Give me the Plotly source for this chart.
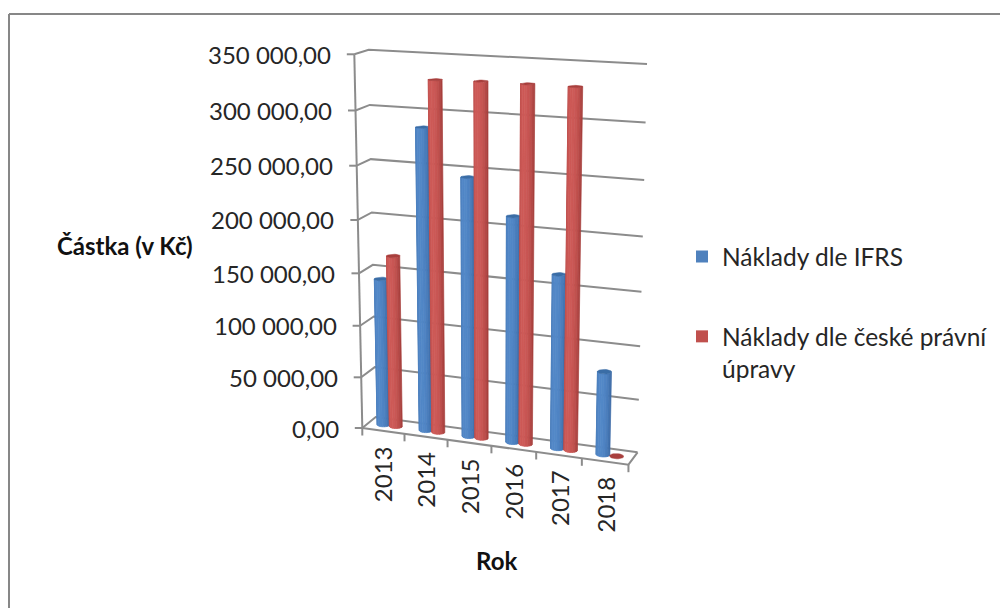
import numpy as np
import plotly.graph_objects as go

# Chart data
years = ["2013", "2014", "2015", "2016", "2017", "2018"]
naklady_ifrs = [142000, 286000, 244000, 212000, 163000, 78000]
naklady_cz = [165000, 329000, 330000, 330000, 330000, 0]
value_ticks = [0, 50000, 100000, 150000, 200000, 250000, 300000, 350000]
series_names = ["Náklady dle IFRS", "Náklady dle české právní<br>úpravy"]

FONT = "Lato"
TEXT = "#262626"
GREY = "#8c8c8c"
VMAX = value_ticks[-1]

# Perspective camera of the 3D box: (width, depth, height) in [0, 1] -> page pixels,
# solved by least squares from where the box corners should land.
box_corners = [
    ((0, 0, 0), (363, 428)), ((0, 0, 1), (354, 54)),
    ((0, 1, 0), (375, 417)), ((0, 1, 1), (369, 50)),
    ((1, 1, 0), (638, 452)), ((1, 1, 1), (647, 64)),
    ((1, 0, 0), (628, 465)),
]
rows = []
for (a, b, c), (px, py) in box_corners:
    rows.append([a, b, c, 1, 0, 0, 0, 0, -px * a, -px * b, -px * c, -px])
    rows.append([0, 0, 0, 0, a, b, c, 1, -py * a, -py * b, -py * c, -py])
CAMERA = np.linalg.svd(np.array(rows, float))[2][-1].reshape(3, 4)


def project(u, d, v):
    """Project box coordinates; v is a money value, u and d are fractions of the box."""
    p = CAMERA @ np.array([u, d, v / VMAX, 1.0])
    return p[0] / p[2], p[1] / p[2]


def polyline(points):
    xs, ys = zip(*[project(*p) for p in points])
    return list(xs), list(ys)


fig = go.Figure()


def add_lines(segments, width=2.0, color=GREY):
    xs, ys = [], []
    for seg in segments:
        sx, sy = polyline(seg)
        xs += sx + [None]
        ys += sy + [None]
    fig.add_trace(go.Scatter(x=xs, y=ys, mode="lines", showlegend=False, hoverinfo="skip",
                             line=dict(color=color, width=width)))


# Walls: gridlines on the left and the back side, plus the value axis itself
add_lines([[(0, 0, v), (0, 1, v), (1, 1, v)] for v in value_ticks])
add_lines([[(0, 0, 0), (0, 0, VMAX)]])

# Floor outline
add_lines([[(0, 0, 0), (1, 0, 0), (1, 1, 0)]])

# Tick marks: value ticks stick out to the left, category ticks hang below the floor
n = len(years)
tick_segments = []
for v in value_ticks:
    x0, y0 = project(0, 0, v)
    tick_segments.append((x0, y0, x0 - 7.5, y0))
for k in range(n + 1):
    x0, y0 = project(k / n, 0, 0)
    tick_segments.append((x0, y0, x0, y0 + 7.5))
txs, tys = [], []
for x0, y0, x1, y1 in tick_segments:
    txs += [x0, x1, None]
    tys += [y0, y1, None]
fig.add_trace(go.Scatter(x=txs, y=tys, mode="lines", showlegend=False, hoverinfo="skip",
                         line=dict(color=GREY, width=2.0)))

# Cylinders: each colour band around the front of a cylinder is one filled trace
RADIUS = 0.0245
DEPTH_RADIUS = 0.2
BANDS = 9
palettes = [
    {"edge": (56, 102, 160), "mid": (82, 136, 200), "cap": "#3a6da6"},
    {"edge": (160, 58, 56), "mid": (206, 90, 87), "cap": "#a83f3d"},
]


def shade(palette, t):
    # t runs 0..1 across the front of the cylinder; lightest a little left of centre
    w = 1 - min(abs(t - 0.45) / 0.55, 1) ** 1.8
    rgb = [palette["edge"][i] + (palette["mid"][i] - palette["edge"][i]) * w for i in range(3)]
    return "rgb({:.0f},{:.0f},{:.0f})".format(*rgb)


def draw_series(values, palette, side):
    thetas = np.linspace(np.pi, 0, BANDS + 1)
    for b in range(BANDS):
        xs, ys = [], []
        for k, val in enumerate(values):
            if val <= 0:
                continue
            uc = (k + 0.5) / n + side * RADIUS
            pts = []
            for th in (thetas[b], thetas[b + 1]):
                pts.append((uc + RADIUS * np.cos(th), 0.5 - DEPTH_RADIUS * np.sin(th), 0))
            for th in (thetas[b + 1], thetas[b]):
                pts.append((uc + RADIUS * np.cos(th), 0.5 - DEPTH_RADIUS * np.sin(th), val))
            px, py = polyline(pts + pts[:1])
            xs += px + [None]
            ys += py + [None]
        color = shade(palette, (b + 0.5) / BANDS)
        fig.add_trace(go.Scatter(x=xs, y=ys, mode="lines", fill="toself", fillcolor=color,
                                 line=dict(color=color, width=0.7),
                                 showlegend=False, hoverinfo="skip"))
    # Top caps
    xs, ys = [], []
    for k, val in enumerate(values):
        uc = (k + 0.5) / n + side * RADIUS
        ring = [(uc + RADIUS * np.cos(t), 0.5 + DEPTH_RADIUS * np.sin(t), val)
                for t in np.linspace(0, 2 * np.pi, 25)]
        px, py = polyline(ring)
        xs += px + [None]
        ys += py + [None]
    fig.add_trace(go.Scatter(x=xs, y=ys, mode="lines", fill="toself", fillcolor=palette["cap"],
                             line=dict(color=palette["cap"], width=0.5),
                             showlegend=False, hoverinfo="skip"))


draw_series(naklady_ifrs, palettes[0], -1)
draw_series(naklady_cz, palettes[1], 1)

# Legend entries
for name, color in zip(series_names, ["#4f81bd", "#c0504d"]):
    fig.add_trace(go.Scatter(x=[None], y=[None], mode="markers", name=name, legendgroup=name,
                             marker=dict(symbol="square", size=13, color=color)))

annotations = []
# Value tick labels
for v in value_ticks:
    x0, y0 = project(0, 0, v)
    label = f"{v:,.2f}".replace(",", " ").replace(".", ",")
    annotations.append(dict(x=x0 - 21.5, y=y0, text=label, xanchor="right", yanchor="middle",
                            showarrow=False, font=dict(family=FONT, size=24, color=TEXT)))
# Category tick labels, read upwards
for k, year in enumerate(years):
    x0, y0 = project((k + 0.5) / n, 0, 0)
    annotations.append(dict(x=x0, y=y0 + 13, text=year, textangle=-90, xanchor="center",
                            yanchor="top", showarrow=False,
                            font=dict(family=FONT, size=24, color=TEXT)))
# Axis titles
annotations.append(dict(x=125, y=245, text="<b>Částka (v Kč)</b>", showarrow=False,
                        font=dict(family=FONT, size=24, color="#111111")))
annotations.append(dict(x=496, y=560, text="<b>Rok</b>", showarrow=False,
                        font=dict(family=FONT, size=24, color="#111111")))

fig.update_layout(
    width=1000, height=608, margin=dict(l=0, r=0, t=0, b=0),
    paper_bgcolor="white", plot_bgcolor="white",
    xaxis=dict(range=[0, 1000], visible=False, fixedrange=True),
    yaxis=dict(range=[608, 0], visible=False, fixedrange=True),
    annotations=annotations,
    legend=dict(x=0.682, y=0.615, xanchor="left", yanchor="top", valign="top",
                bgcolor="rgba(0,0,0,0)", tracegroupgap=45, itemsizing="constant",
                font=dict(family=FONT, size=24.5, color=TEXT)),
    shapes=[
        dict(type="line", xref="x", yref="y", x0=9, y0=14, x1=1000, y1=14,
             line=dict(color="#878787", width=2)),
        dict(type="line", xref="x", yref="y", x0=9, y0=14, x1=9, y1=608,
             line=dict(color="#878787", width=2)),
    ],
)

fig.write_html("out.html")
